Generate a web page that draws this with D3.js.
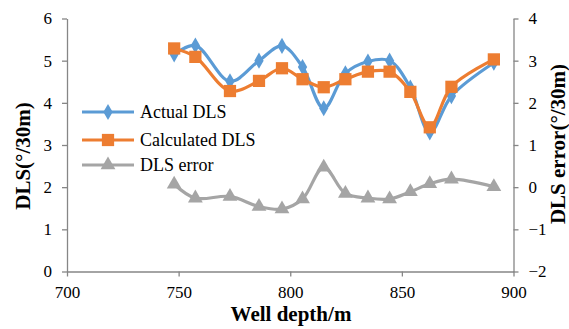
<!DOCTYPE html>
<html><head><meta charset="utf-8">
<script src="https://cdn.jsdelivr.net/npm/d3@7"></script>
<style>body{margin:0;background:#fff}svg{display:block}</style>
</head><body><svg id="c" width="569" height="329"></svg>
<script>
const depth = [748, 757.5, 773, 786, 796.3, 805.5, 815, 824.7, 834.8, 844.5, 853.8, 862.5, 872.2, 891.2];
const actualDLS = [5.15, 5.36, 4.51, 5.0, 5.35, 4.85, 3.87, 4.7, 4.98, 5.0, 4.36, 3.3, 4.16, 4.95];
const calcDLS = [5.29, 5.09, 4.28, 4.52, 4.82, 4.56, 4.37, 4.56, 4.74, 4.74, 4.26, 3.42, 4.38, 5.03];
const dlsError = [0.07, -0.26, -0.22, -0.46, -0.52, -0.28, 0.47, -0.15, -0.26, -0.28, -0.11, 0.08, 0.19, 0.01];
const xTicks = [700, 750, 800, 850, 900];
const yLeftTicks = [0, 1, 2, 3, 4, 5, 6];
const yRightTicks = [-2, -1, 0, 1, 2, 3, 4];
const seriesNames = ["Actual DLS", "Calculated DLS", "DLS error"];
const colors = ["#5B9BD5", "#ED7D31", "#A5A5A5"];
const FONT = "Liberation Serif";

const svg = d3.select("#c");
const L = 67, R = 513.5, T = 18.5, B = 271.5;
const x = d3.scaleLinear().domain([700, 900]).range([L, R]);
const yL = d3.scaleLinear().domain([0, 6]).range([B, T]);
const yR = d3.scaleLinear().domain([-2, 4]).range([B, T]);
const axisColor = "#868686";
const fmt = d3.format("d");

function styleAxis(g){
  g.attr("font-family", FONT).attr("font-size", 17);
  g.select(".domain").attr("stroke", axisColor).attr("stroke-width", 1.3);
  g.selectAll(".tick line").attr("stroke", axisColor).attr("stroke-width", 1.3);
  g.selectAll(".tick text").attr("font-family", FONT).attr("font-size", 17).attr("fill", "#000");
}
svg.append("g").attr("transform", `translate(0,${B})`)
  .call(d3.axisBottom(x).tickValues(xTicks).tickFormat(fmt).tickSize(5).tickSizeOuter(0).tickPadding(9))
  .call(styleAxis);
svg.append("g").attr("transform", `translate(${L},0)`)
  .call(d3.axisLeft(yL).tickValues(yLeftTicks).tickFormat(fmt).tickSize(5).tickSizeOuter(0).tickPadding(10))
  .call(styleAxis);
svg.append("g").attr("transform", `translate(${R},0)`)
  .call(d3.axisRight(yR).tickValues(yRightTicks).tickFormat(fmt).tickSize(5).tickSizeOuter(0).tickPadding(10))
  .call(styleAxis);

const curve = d3.curveCatmullRom.alpha(0.5);
const data = [
  {vals: actualDLS, y: yL, sym: d3.symbolDiamond, size: 75, color: colors[0]},
  {vals: calcDLS, y: yL, sym: d3.symbolSquare, size: 150, color: colors[1]},
  {vals: dlsError, y: yR, sym: d3.symbolTriangle, size: 95, color: colors[2]}
];
data.forEach(s => {
  const pts = depth.map((d, i) => [x(d), s.y(s.vals[i])]);
  svg.append("path").attr("d", d3.line().curve(curve)(pts))
    .attr("fill", "none").attr("stroke", s.color).attr("stroke-width", 3.2);
  svg.append("g").selectAll("path").data(pts).join("path")
    .attr("transform", d => `translate(${d[0]},${d[1]})`)
    .attr("d", d3.symbol().type(s.sym).size(s.size)).attr("fill", s.color);
});

// legend
const legY = [112, 140, 165];
data.forEach((s, i) => {
  const g = svg.append("g");
  g.append("line").attr("x1", 82).attr("x2", 134).attr("y1", legY[i]).attr("y2", legY[i])
    .attr("stroke", s.color).attr("stroke-width", 3.2);
  g.append("path").attr("transform", `translate(108,${legY[i]})`)
    .attr("d", d3.symbol().type(s.sym).size(s.size)).attr("fill", s.color);
  g.append("text").attr("x", 140).attr("y", legY[i]).attr("dy", "0.35em")
    .attr("font-family", FONT).attr("font-size", 18).text(seriesNames[i]);
});

// axis titles
function title(t){ return t.attr("font-family", FONT).attr("font-size", 21).attr("font-weight", "bold").attr("text-anchor", "middle"); }
title(svg.append("text").attr("x", 291).attr("y", 321)).text("Well depth/m");
title(svg.append("text").attr("transform", "translate(30,156) rotate(-90)")).text("DLS(°/30m)");
title(svg.append("text").attr("transform", "translate(565,144) rotate(-90)")).text("DLS error(°/30m)");
</script></body></html>
